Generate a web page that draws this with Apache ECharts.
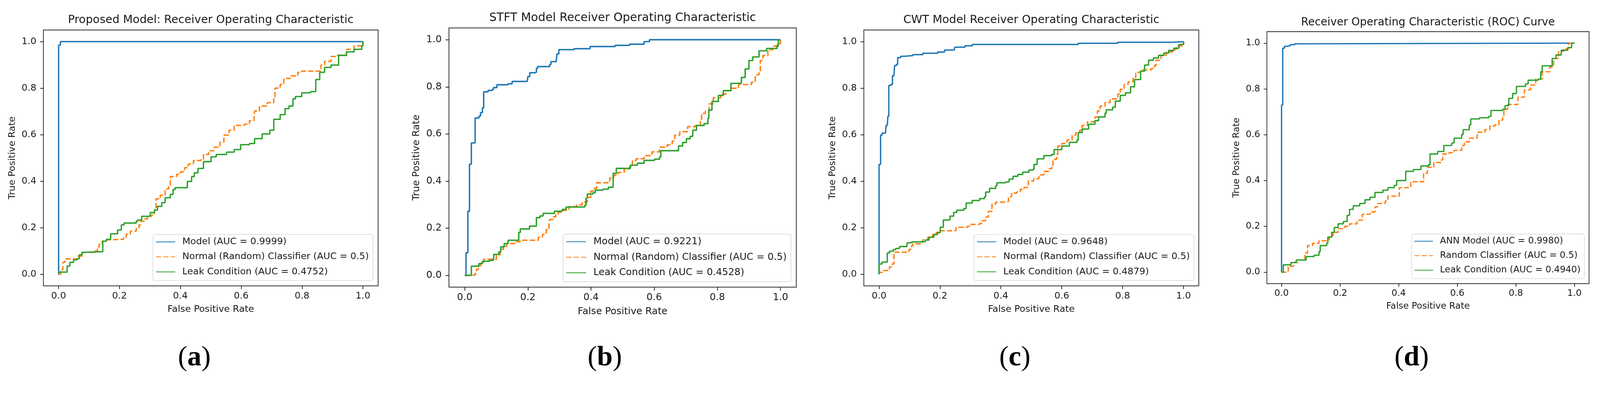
<!DOCTYPE html>
<html><head><meta charset="utf-8">
<script src="https://cdn.jsdelivr.net/npm/echarts@6/dist/echarts.min.js"></script>
<style>html,body{margin:0;padding:0;background:#fff;overflow:hidden}#c{position:absolute;left:0;top:0}</style>
</head><body><div id="c"></div>
<script>
// ---------- text ----------
const panelTitles = [
  'Proposed Model: Receiver Operating Characteristic',
  'STFT Model Receiver Operating Characteristic',
  'CWT Model Receiver Operating Characteristic',
  'Receiver Operating Characteristic (ROC) Curve'
];
const captionLetters = ['a', 'b', 'c', 'd'];
const seriesNames = [
  ['Model (AUC = 0.9999)', 'Normal (Random) Classifier (AUC = 0.5)', 'Leak Condition (AUC = 0.4752)'],
  ['Model (AUC = 0.9221)', 'Normal (Random) Classifier (AUC = 0.5)', 'Leak Condition (AUC = 0.4528)'],
  ['Model (AUC = 0.9648)', 'Normal (Random) Classifier (AUC = 0.5)', 'Leak Condition (AUC = 0.4879)'],
  ['ANN Model (AUC = 0.9980)', 'Random Classifier (AUC = 0.5)', 'Leak Condition (AUC = 0.4940)']
];
const xAxisName = 'False Positive Rate';
const yAxisName = 'True Positive Rate';
const tickValues = [0, 0.2, 0.4, 0.6, 0.8, 1.0];

// ---------- data: [FPR, TPR] ----------
const a_model = [[0,0],[0,0.985],[0.006,1.0],[1,1]];
const a_random = [[0,0],[0.007,0.019],[0.014,0.051],[0.021,0.066],[0.042,0.066],[0.063,0.078],[0.077,0.094],[0.09,0.094],[0.114,0.1],[0.128,0.11],[0.133,0.129],[0.143,0.142],[0.157,0.148],[0.171,0.15],[0.203,0.15],[0.213,0.158],[0.222,0.172],[0.236,0.185],[0.255,0.196],[0.264,0.212],[0.269,0.228],[0.283,0.238],[0.292,0.249],[0.306,0.255],[0.315,0.281],[0.32,0.324],[0.334,0.34],[0.35,0.367],[0.362,0.383],[0.367,0.42],[0.388,0.43],[0.4,0.44],[0.414,0.458],[0.426,0.474],[0.443,0.489],[0.468,0.494],[0.476,0.515],[0.493,0.531],[0.51,0.546],[0.53,0.567],[0.543,0.598],[0.56,0.619],[0.577,0.64],[0.61,0.645],[0.627,0.66],[0.642,0.671],[0.644,0.702],[0.66,0.723],[0.686,0.738],[0.707,0.754],[0.711,0.8],[0.728,0.816],[0.74,0.842],[0.761,0.853],[0.786,0.868],[0.799,0.873],[0.845,0.873],[0.862,0.899],[0.874,0.915],[0.895,0.936],[0.916,0.941],[0.946,0.967],[0.971,0.982],[1,1]];
const a_leak = [[0,0],[0.002,0.009],[0.023,0.009],[0.028,0.035],[0.037,0.051],[0.049,0.062],[0.061,0.067],[0.068,0.083],[0.077,0.094],[0.082,0.097],[0.145,0.097],[0.145,0.142],[0.157,0.15],[0.171,0.15],[0.171,0.174],[0.187,0.174],[0.194,0.19],[0.206,0.212],[0.215,0.22],[0.236,0.22],[0.255,0.228],[0.26,0.233],[0.273,0.249],[0.297,0.252],[0.301,0.265],[0.315,0.276],[0.325,0.292],[0.339,0.308],[0.35,0.329],[0.367,0.343],[0.376,0.364],[0.383,0.372],[0.407,0.372],[0.423,0.399],[0.437,0.42],[0.446,0.436],[0.458,0.455],[0.476,0.484],[0.501,0.505],[0.518,0.515],[0.552,0.525],[0.577,0.536],[0.598,0.557],[0.627,0.562],[0.644,0.583],[0.669,0.603],[0.694,0.619],[0.707,0.666],[0.728,0.686],[0.744,0.712],[0.757,0.723],[0.77,0.754],[0.778,0.764],[0.799,0.78],[0.828,0.785],[0.845,0.837],[0.858,0.868],[0.874,0.889],[0.895,0.899],[0.92,0.92],[0.92,0.941],[0.946,0.956],[0.971,0.967],[0.996,0.982],[1,1]];

const b_model = [[0,0],[0.004,0],[0.004,0.096],[0.01,0.096],[0.01,0.272],[0.015,0.272],[0.015,0.472],[0.021,0.48],[0.021,0.562],[0.033,0.566],[0.033,0.668],[0.045,0.676],[0.05,0.691],[0.056,0.711],[0.06,0.713],[0.06,0.779],[0.074,0.785],[0.087,0.789],[0.091,0.797],[0.102,0.809],[0.137,0.813],[0.15,0.823],[0.198,0.824],[0.2,0.844],[0.206,0.86],[0.223,0.862],[0.227,0.879],[0.231,0.886],[0.263,0.886],[0.269,0.895],[0.273,0.907],[0.29,0.913],[0.292,0.94],[0.298,0.958],[0.338,0.958],[0.346,0.962],[0.388,0.962],[0.397,0.971],[0.472,0.971],[0.476,0.976],[0.518,0.977],[0.522,0.981],[0.556,0.981],[0.568,0.992],[0.585,1.0],[1,1]];
const b_random = [[0,0],[0.008,0.002],[0.033,0.008],[0.037,0.025],[0.043,0.041],[0.051,0.056],[0.06,0.068],[0.091,0.068],[0.1,0.088],[0.112,0.111],[0.123,0.123],[0.133,0.135],[0.158,0.143],[0.175,0.149],[0.221,0.149],[0.233,0.162],[0.246,0.174],[0.258,0.194],[0.267,0.213],[0.269,0.237],[0.28,0.248],[0.288,0.26],[0.296,0.268],[0.309,0.276],[0.33,0.292],[0.355,0.299],[0.372,0.311],[0.384,0.311],[0.388,0.331],[0.399,0.358],[0.411,0.37],[0.418,0.393],[0.455,0.393],[0.459,0.413],[0.472,0.425],[0.485,0.437],[0.505,0.452],[0.522,0.464],[0.531,0.487],[0.543,0.495],[0.568,0.508],[0.593,0.524],[0.617,0.544],[0.641,0.554],[0.657,0.57],[0.665,0.595],[0.681,0.61],[0.706,0.631],[0.73,0.636],[0.746,0.656],[0.75,0.687],[0.762,0.697],[0.774,0.728],[0.787,0.754],[0.811,0.769],[0.827,0.784],[0.843,0.794],[0.867,0.81],[0.892,0.81],[0.908,0.82],[0.92,0.851],[0.932,0.861],[0.936,0.912],[0.944,0.933],[0.96,0.958],[0.976,0.973],[0.989,0.984],[1,1]];
const b_leak = [[0,0],[0.021,0.008],[0.021,0.039],[0.037,0.039],[0.045,0.05],[0.056,0.06],[0.079,0.064],[0.091,0.068],[0.092,0.089],[0.108,0.1],[0.114,0.121],[0.125,0.135],[0.137,0.149],[0.171,0.149],[0.171,0.182],[0.176,0.197],[0.2,0.197],[0.205,0.209],[0.221,0.209],[0.227,0.245],[0.238,0.252],[0.248,0.263],[0.275,0.263],[0.284,0.272],[0.3,0.272],[0.309,0.28],[0.321,0.29],[0.38,0.298],[0.384,0.327],[0.388,0.345],[0.405,0.35],[0.413,0.362],[0.438,0.366],[0.455,0.374],[0.47,0.378],[0.47,0.433],[0.48,0.454],[0.524,0.454],[0.526,0.468],[0.547,0.476],[0.568,0.488],[0.601,0.493],[0.617,0.503],[0.621,0.529],[0.665,0.529],[0.677,0.549],[0.69,0.564],[0.702,0.58],[0.714,0.59],[0.722,0.616],[0.734,0.636],[0.758,0.644],[0.77,0.667],[0.773,0.702],[0.783,0.738],[0.803,0.764],[0.819,0.784],[0.843,0.815],[0.871,0.815],[0.876,0.84],[0.888,0.876],[0.9,0.912],[0.912,0.927],[0.932,0.953],[0.956,0.963],[0.989,0.973],[0.993,0.999],[1,1]];

const c_model = [[0,0],[0,0.472],[0.005,0.474],[0.005,0.598],[0.01,0.607],[0.021,0.609],[0.023,0.64],[0.027,0.643],[0.029,0.68],[0.032,0.683],[0.032,0.812],[0.04,0.817],[0.044,0.853],[0.049,0.857],[0.051,0.897],[0.057,0.902],[0.061,0.931],[0.071,0.937],[0.083,0.94],[0.111,0.944],[0.144,0.95],[0.192,0.955],[0.215,0.964],[0.247,0.968],[0.249,0.976],[0.282,0.982],[0.306,0.988],[0.65,0.988],[0.654,0.993],[0.78,0.993],[0.784,0.997],[0.96,0.997],[0.964,1.0],[1,1]];
const c_random = [[0,0],[0.001,0.008],[0.014,0.016],[0.028,0.016],[0.034,0.032],[0.043,0.044],[0.049,0.056],[0.049,0.087],[0.053,0.095],[0.091,0.099],[0.099,0.107],[0.107,0.123],[0.111,0.131],[0.136,0.139],[0.144,0.148],[0.16,0.159],[0.176,0.172],[0.188,0.18],[0.201,0.187],[0.247,0.188],[0.253,0.202],[0.29,0.206],[0.298,0.214],[0.33,0.218],[0.338,0.23],[0.35,0.246],[0.359,0.27],[0.371,0.302],[0.383,0.31],[0.417,0.313],[0.425,0.333],[0.435,0.349],[0.452,0.353],[0.464,0.365],[0.476,0.373],[0.49,0.401],[0.508,0.411],[0.525,0.427],[0.541,0.442],[0.558,0.453],[0.567,0.468],[0.571,0.494],[0.583,0.515],[0.587,0.551],[0.6,0.562],[0.617,0.577],[0.634,0.598],[0.646,0.609],[0.659,0.619],[0.667,0.64],[0.684,0.655],[0.709,0.676],[0.717,0.702],[0.726,0.723],[0.742,0.738],[0.759,0.754],[0.772,0.754],[0.784,0.775],[0.792,0.795],[0.805,0.816],[0.818,0.827],[0.834,0.847],[0.843,0.868],[0.859,0.878],[0.876,0.878],[0.893,0.884],[0.905,0.899],[0.91,0.92],[0.926,0.941],[0.943,0.956],[0.964,0.967],[0.977,0.982],[1,1]];
const c_leak = [[0,0],[0,0.044],[0.006,0.045],[0.01,0.052],[0.027,0.056],[0.027,0.091],[0.034,0.099],[0.047,0.106],[0.055,0.111],[0.067,0.119],[0.091,0.123],[0.093,0.135],[0.107,0.139],[0.14,0.14],[0.152,0.147],[0.164,0.159],[0.18,0.171],[0.192,0.179],[0.201,0.202],[0.211,0.204],[0.211,0.233],[0.225,0.234],[0.233,0.25],[0.245,0.266],[0.255,0.275],[0.278,0.282],[0.286,0.306],[0.306,0.317],[0.33,0.325],[0.346,0.333],[0.35,0.353],[0.363,0.369],[0.383,0.381],[0.387,0.393],[0.415,0.397],[0.427,0.409],[0.44,0.421],[0.456,0.429],[0.472,0.439],[0.492,0.448],[0.506,0.452],[0.509,0.472],[0.519,0.496],[0.541,0.51],[0.567,0.515],[0.575,0.536],[0.6,0.551],[0.625,0.567],[0.65,0.577],[0.654,0.609],[0.667,0.624],[0.688,0.645],[0.709,0.66],[0.721,0.676],[0.742,0.692],[0.746,0.707],[0.767,0.718],[0.776,0.744],[0.792,0.769],[0.809,0.78],[0.826,0.806],[0.839,0.837],[0.859,0.873],[0.872,0.899],[0.885,0.92],[0.901,0.93],[0.918,0.941],[0.935,0.951],[0.951,0.962],[0.968,0.972],[0.985,0.988],[1,1]];

const d_model = [[0,0],[0,0.73],[0.004,0.745],[0.004,0.978],[0.01,0.986],[0.02,0.989],[0.03,0.993],[0.045,0.997],[0.062,1.0],[1,1]];
const d_random = [[0,0],[0.015,0.005],[0.023,0.026],[0.041,0.042],[0.058,0.053],[0.076,0.053],[0.08,0.084],[0.089,0.116],[0.106,0.126],[0.128,0.137],[0.154,0.142],[0.163,0.158],[0.176,0.174],[0.193,0.19],[0.215,0.2],[0.232,0.211],[0.258,0.227],[0.276,0.253],[0.302,0.263],[0.319,0.285],[0.328,0.3],[0.354,0.311],[0.363,0.332],[0.389,0.332],[0.402,0.369],[0.433,0.374],[0.441,0.395],[0.476,0.395],[0.485,0.432],[0.498,0.458],[0.52,0.479],[0.546,0.49],[0.55,0.516],[0.572,0.522],[0.589,0.532],[0.615,0.553],[0.624,0.569],[0.641,0.585],[0.668,0.611],[0.694,0.622],[0.711,0.638],[0.728,0.643],[0.742,0.664],[0.755,0.68],[0.759,0.711],[0.772,0.732],[0.798,0.732],[0.807,0.764],[0.829,0.796],[0.85,0.817],[0.868,0.843],[0.89,0.875],[0.916,0.896],[0.929,0.933],[0.946,0.964],[0.963,0.975],[0.979,0.996],[0.983,1.0],[1,1]];
const d_leak = [[0,0],[0.006,0.032],[0.019,0.032],[0.032,0.042],[0.05,0.053],[0.076,0.053],[0.084,0.068],[0.111,0.074],[0.128,0.09],[0.132,0.116],[0.154,0.126],[0.158,0.153],[0.171,0.174],[0.18,0.195],[0.193,0.211],[0.211,0.221],[0.224,0.248],[0.232,0.274],[0.245,0.29],[0.267,0.3],[0.285,0.316],[0.302,0.327],[0.319,0.348],[0.346,0.358],[0.363,0.369],[0.385,0.379],[0.393,0.4],[0.42,0.4],[0.424,0.44],[0.45,0.448],[0.476,0.464],[0.502,0.469],[0.507,0.516],[0.533,0.527],[0.554,0.553],[0.581,0.564],[0.589,0.585],[0.615,0.601],[0.62,0.622],[0.641,0.643],[0.646,0.669],[0.676,0.674],[0.707,0.68],[0.715,0.706],[0.755,0.711],[0.763,0.727],[0.776,0.759],[0.789,0.78],[0.802,0.811],[0.833,0.822],[0.842,0.838],[0.876,0.843],[0.885,0.875],[0.89,0.901],[0.92,0.901],[0.924,0.933],[0.937,0.948],[0.955,0.969],[0.977,0.98],[0.99,0.985],[0.991,1.0],[1,1]];

const panelData = [
  [a_model, a_random, a_leak],
  [b_model, b_random, b_leak],
  [c_model, c_random, c_leak],
  [d_model, d_random, d_leak]
];

// ---------- layout & style (reference pixels, scaled to the viewport) ----------
const REF_W = 4323, REF_H = 1021;
const VW = window.innerWidth || document.documentElement.clientWidth || REF_W;
const VH = window.innerHeight || document.documentElement.clientHeight || REF_H;
const S = Math.min(VW / REF_W, VH / REF_H);
const p = v => v * S;
// f = per-panel scale of the pasted sub-figure
const layout = [
  {left:117.3, top:81,   width:904.4, height:691,   f:1.000, titleY:54,   capX:525,  legR:1007.6, legB:757.7},
  {left:1213,  top:75.5, width:938.5, height:700,   f:1.036, titleY:49,   capX:1634, legR:2137,   legB:761},
  {left:2334,  top:81,   width:905,   height:691,   f:1.000, titleY:54,   capX:2742, legR:3226,   legB:757.6},
  {left:3423,  top:85.5, width:870.5, height:680.5, f:0.965, titleY:60.5, capX:3814, legR:4281,   legB:752.4}
];
const colors = ['#1f77b4', '#ff7f0e', '#2ca02c'];
const dashed = [14, 6];
const FONT = 'DejaVu Sans';
const TXT = '#1a1a1a';
const BASE_FS = 25.2, BASE_TFS = 30.3, CAP_FS = 76, CAP_Y = 967;

const el = document.getElementById('c');
el.style.width = p(REF_W) + 'px';
el.style.height = p(REF_H) + 'px';

const grid = [], xAxis = [], yAxis = [], series = [], legend = [], graphic = [];
layout.forEach((L, i) => {
  const f = L.f, fs = BASE_FS * f, tfs = BASE_TFS * f;
  grid.push({left:p(L.left), top:p(L.top), width:p(L.width), height:p(L.height), show:true,
    borderColor:'#2b2b2b', borderWidth:p(2 * f), backgroundColor:'transparent', containLabel:false, outerBoundsMode:'none'});
  const common = {
    gridIndex:i, type:'value', min:-0.05, max:1.05,
    axisLine:{show:false, onZero:false}, splitLine:{show:false},
    axisTick:{show:true, length:p(8.8 * f), inside:false, lineStyle:{color:'#222', width:p(2 * f)}, customValues:tickValues},
    axisLabel:{customValues:tickValues, formatter:v => v.toFixed(1), fontSize:p(fs), color:TXT, fontFamily:FONT},
    nameLocation:'middle', nameTextStyle:{fontSize:p(fs), color:TXT, fontFamily:FONT}
  };
  xAxis.push(Object.assign({}, common, {name:xAxisName, nameGap:p(64.5 * f - fs / 2 - 1), position:'bottom',
    axisLabel:Object.assign({}, common.axisLabel, {margin:p(15 * f)})}));
  yAxis.push(Object.assign({}, common, {name:yAxisName, nameGap:p(84 * f - fs / 2), position:'left',
    axisLabel:Object.assign({}, common.axisLabel, {margin:p(19 * f)})}));
  panelData[i].forEach((d, k) => {
    series.push({type:'line', name:seriesNames[i][k], xAxisIndex:i, yAxisIndex:i, data:d,
      step:'end', symbol:'none', showSymbol:false, animation:false,
      lineStyle:{color:colors[k], width:p(3.7 * f), type:k === 1 ? dashed.map(v => p(v * f)) : 'solid'},
      itemStyle:{color:colors[k]}});
  });
  legend.push({orient:'vertical', right:p(REF_W - L.legR), bottom:p(REF_H - L.legB), data:seriesNames[i],
    itemWidth:p(52 * f), itemHeight:p(14 * f), itemGap:p(14.5 * f), selectedMode:false,
    itemStyle:{color:'rgba(0,0,0,0)', borderWidth:0, opacity:0},
    textStyle:{fontSize:p(fs), color:TXT, fontFamily:FONT, lineHeight:p(26 * f), padding:[0, 0, 0, p(14 * f)]},
    backgroundColor:'rgba(255,255,255,0.85)', borderColor:'#d4d4d4', borderWidth:p(1.5 * f), borderRadius:p(5 * f),
    padding:[p(7 * f), p(11 * f), p(10.5 * f), p(7 * f)]});
  graphic.push({type:'text', x:p(L.left + L.width / 2), y:p(L.titleY),
    style:{text:panelTitles[i], fontSize:p(tfs), fontFamily:FONT, fill:TXT,
      align:'center', verticalAlign:'middle', textAlign:'center', textVerticalAlign:'middle'}});
  graphic.push({type:'text', x:p(L.capX), y:p(CAP_Y),
    style:{text:'({b|' + captionLetters[i] + '})', fontSize:p(CAP_FS), fontFamily:'Liberation Serif', fill:'#000',
      align:'center', verticalAlign:'middle', textAlign:'center', textVerticalAlign:'middle',
      rich:{b:{fontSize:p(CAP_FS), fontFamily:'Liberation Serif', fontWeight:'bold', fill:'#000'}}}});
});

const chart = echarts.init(el, null, {renderer:'canvas', width:p(REF_W), height:p(REF_H)});
chart.setOption({animation:false, backgroundColor:'#fff', grid, xAxis, yAxis, series, legend, graphic});
</script></body></html>
